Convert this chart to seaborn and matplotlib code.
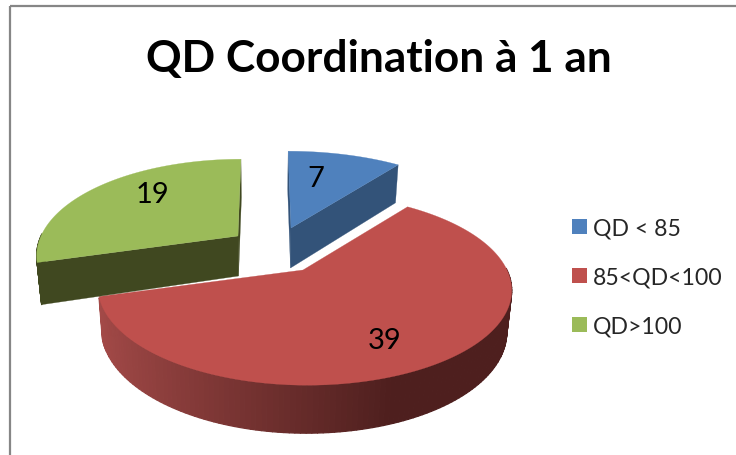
import numpy as np
import matplotlib
matplotlib.use("Agg")
import matplotlib.pyplot as plt
import matplotlib.colors as mc
from matplotlib.collections import PolyCollection
from matplotlib.patches import Patch, Rectangle
import seaborn as sns

# ---- data ----
categories = ["QD < 85", "85<QD<100", "QD>100"]
values = [7, 39, 19]
title = "QD Coordination à 1 an"

# ---- style ----
top_colors = ["#4f81bd", "#bf504d", "#9bbb59"]
cut_colors = ["#335379", "#7a3230", "#404820"]
rim_left, rim_right = "#a64b49", "#4e1f1e"

# ---- layout (exploded slice apexes and half-widths, in pixels) ----
apex = [(291, 229), (303, 271), (238, 237)]
rx_left = [199, 202, 197]
rx_right = [207, 204, 207]
RY = 96
PERSP, DEPTH, VANISH, SHEAR, BOTTOM_IN = 0.2, 40, 265, 0.55, 0.02

sns.set_theme(style="white")
plt.rcParams["font.family"] = ["Lato", "DejaVu Sans"]
palette = sns.color_palette(top_colors)

fig = plt.figure(figsize=(7.36, 4.56), dpi=100)
ax = fig.add_axes([0, 0, 1, 1])
ax.set_xlim(0, 736)
ax.set_ylim(456, 0)
ax.axis("off")

ax.add_patch(Rectangle((9.5, 6.5), 800, 600, fill=False, ec="#868686", lw=1.6))


def project(i, t, r=1.0):
    """Project a polar point of slice i: t clockwise from 12 o'clock."""
    a = apex[i]
    t = np.asarray(t, float)
    u, v = np.sin(t) * r, np.cos(t) * r
    f = 1 - PERSP * v
    rx = np.where(u < 0, rx_left[i], rx_right[i])
    x = a[0] + rx * u * f + SHEAR * (VANISH - a[0]) * (1 - f)
    y = a[1] - RY * v * f
    depth = DEPTH * np.maximum(f, 0.95)
    return x, y, depth


def lower(x):
    """Horizontal position of a point on the lower face of the disc."""
    return x + (VANISH - x) * BOTTOM_IN


fractions = np.array(values, float) / sum(values)
edges = np.concatenate([[0], np.cumsum(fractions)]) * 2 * np.pi
order = [0, 2, 1]

rim_l = np.array(mc.to_rgb(rim_left))
rim_r = np.array(mc.to_rgb(rim_right))

for i in order:
    a = apex[i]
    th = np.linspace(edges[i], edges[i + 1], 160)
    x, y, d = project(i, th)

    # cut faces
    for e in (edges[i], edges[i + 1]):
        ex, ey, ed = project(i, e)
        ax.fill([a[0], ex, lower(ex), lower(a[0])], [a[1], ey, ey + ed, a[1] + DEPTH],
                color=cut_colors[i], lw=0.2, zorder=2 + i)

    # outer rim facing the viewer, shaded by its horizontal position
    polys, cols = [], []
    for k in range(len(th) - 1):
        if np.cos(th[k]) > 0.02:
            continue
        polys.append([(x[k], y[k]), (x[k + 1], y[k + 1]),
                      (lower(x[k + 1]), y[k + 1] + d[k + 1]), (lower(x[k]), y[k] + d[k])])
        s = np.clip((np.sin(th[k]) + 1) / 1.36, 0, 1)
        cols.append(tuple(rim_l + (rim_r - rim_l) * s) if i == 1 else mc.to_rgb(cut_colors[i]))
    if polys:
        ax.add_collection(PolyCollection(polys, facecolors=cols, edgecolors=cols,
                                         linewidths=0.9, zorder=2.2 + i))

    # the large slice sits in front: thin white seam along its cut edges
    if i == 1:
        c0 = project(i, edges[i])
        c1 = project(i, edges[i + 1])
        ax.plot([c0[0], a[0], c1[0]], [c0[1], a[1], c1[1]], color="white", lw=2.0,
                solid_joinstyle="miter", zorder=2.4 + i)
    ax.fill(np.r_[a[0], x], np.r_[a[1], y], color=palette[i], lw=0.2, zorder=2.5 + i)

# ---- value labels ----
label_r_x = [0.40, 0.64, 0.60]
label_r_y = [0.62, 0.77, 0.80]
for i, val in enumerate(values):
    mid = (edges[i] + edges[i + 1]) / 2
    lx = project(i, mid, label_r_x[i])[0]
    ly = project(i, mid, label_r_y[i])[1]
    ax.text(lx, ly, str(val), ha="center", va="center", fontsize=21,
            color="black", zorder=10)

ax.text(379, 59, title, ha="center", va="center", fontsize=31.8,
        fontweight="bold", color="black", zorder=10)

handles = [Patch(facecolor=c, edgecolor="none", label=l) for c, l in zip(palette, categories)]
ax.legend(handles=handles, loc="center left", bbox_to_anchor=(572 / 736, 1 - 278 / 456),
          frameon=False, fontsize=16.6, handlelength=0.65, handleheight=0.65,
          handletextpad=0.27, labelspacing=1.22, borderpad=0, borderaxespad=0)

fig.savefig("out.png", dpi=100, facecolor="white")
